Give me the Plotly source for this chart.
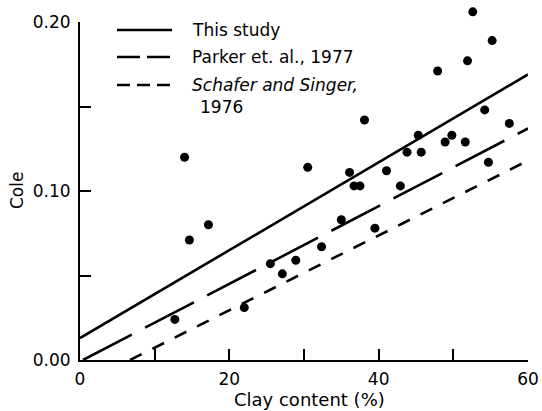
import plotly.graph_objects as go

# Measured samples: clay content (%) and coefficient of linear extensibility
clay_pct = [12.7, 14.0, 14.65, 17.2, 22.0, 25.5, 27.1, 28.9, 30.5, 32.35,
            35.0, 36.1, 36.7, 37.5, 38.1, 39.5, 41.05, 42.9, 43.8, 45.3,
            45.7, 47.9, 48.9, 49.8, 51.6, 51.9, 52.6, 54.2, 54.7, 55.2, 57.5]
cole = [0.024, 0.120, 0.071, 0.080, 0.031, 0.057, 0.051, 0.059, 0.114, 0.067,
        0.083, 0.111, 0.103, 0.103, 0.142, 0.078, 0.112, 0.103, 0.123, 0.133,
        0.123, 0.171, 0.129, 0.133, 0.129, 0.177, 0.206, 0.148, 0.117, 0.189, 0.140]

# Regression lines (end points)
this_study_x = [0.0, 60.0]
this_study_y = [0.013, 0.169]
parker_x = [0.4, 60.0]
parker_y = [0.0, 0.137]
schafer_x = [6.7, 60.0]
schafer_y = [0.0, 0.118]

x_ticks = [0, 10, 20, 30, 40, 50, 60]
x_tick_text = ["0", "", "20", "", "40", "", "60"]
y_ticks = [0.0, 0.05, 0.10, 0.15, 0.20]
y_tick_text = ["0.00", "", "0.10", "", "0.20"]
Y_MAX = 0.20

legend_labels = ["This study", "Parker et. al., 1977", "<i>Schafer and Singer,</i>", "1976"]

FONT = "DejaVu Sans"
W, H = 542, 411
ML, MR, MT, MB = 80, 14, 6, 51
PW, PH = W - ML - MR, H - MT - MB
AXIS_TOP_PX = 22                       # pixel row of the 0.20 tick
y_dom_top = (H - MB - AXIS_TOP_PX) / PH  # fraction of plot height used by the framed axis


def px_to_paper(px, py):
    return (px - ML) / PW, (H - MB - py) / PH


fig = go.Figure()

# Points sit on a hidden axis with the same scale but a taller span, so values
# above 0.20 are still drawn; the regression lines use the framed axis.
fig.add_trace(go.Scatter(x=clay_pct, y=cole, mode="markers", yaxis="y2",
                         marker=dict(color="black", size=9, line=dict(width=0)),
                         cliponaxis=False, showlegend=False))
fig.add_trace(go.Scatter(x=this_study_x, y=this_study_y, mode="lines",
                         line=dict(color="black", width=2.6), showlegend=False))
fig.add_trace(go.Scatter(x=parker_x, y=parker_y, mode="lines",
                         line=dict(color="black", width=2.6, dash="55px,15px"),
                         showlegend=False))
fig.add_trace(go.Scatter(x=schafer_x, y=schafer_y, mode="lines",
                         line=dict(color="black", width=2.6, dash="13px,12px"),
                         showlegend=False))

# Key: line samples and labels
key_rows = [30, 57, 85]
key_dash = ["solid", "23px,7px", "13px,7px"]
for row, dash in zip(key_rows, key_dash):
    x0, y0 = px_to_paper(117, row)
    x1, _ = px_to_paper(172, row)
    fig.add_shape(type="line", xref="paper", yref="paper", x0=x0, x1=x1, y0=y0, y1=y0,
                  line=dict(color="black", width=2.6, dash=dash))

label_pos = [(190, 30), (190, 57), (190, 85), (198, 107)]
for text, (px, py) in zip(legend_labels, label_pos):
    ax, ay = px_to_paper(px, py)
    fig.add_annotation(text=text, x=ax, y=ay, xref="paper", yref="paper",
                       xanchor="left", yanchor="middle", showarrow=False,
                       font=dict(family=FONT, size=17, color="black"))

# Axis titles
tx, ty = px_to_paper(309, 399)
fig.add_annotation(text="Clay content (%)", x=tx, y=ty, xref="paper", yref="paper",
                   xanchor="center", yanchor="middle", showarrow=False,
                   font=dict(family=FONT, size=18, color="black"))
tx, ty = px_to_paper(17, 191)
fig.add_annotation(text="Cole", x=tx, y=ty, xref="paper", yref="paper", textangle=-90,
                   xanchor="center", yanchor="middle", showarrow=False,
                   font=dict(family=FONT, size=17, color="black"))

axis_common = dict(showgrid=False, zeroline=False, showline=True, linecolor="black",
                   linewidth=2, ticks="inside", ticklen=11, tickwidth=2, automargin=False,
                   tickcolor="black", tickfont=dict(family=FONT, size=17, color="black"))

fig.update_layout(
    width=W, height=H,
    margin=dict(l=ML, r=MR, t=MT, b=MB, autoexpand=False),
    paper_bgcolor="white", plot_bgcolor="rgba(0,0,0,0)",
    xaxis=dict(range=[0, 60], tickvals=x_ticks, ticktext=x_tick_text,
               ticklabelstandoff=3, **axis_common),
    yaxis=dict(range=[0, Y_MAX], domain=[0, y_dom_top], tickvals=y_ticks,
               ticktext=y_tick_text, ticklabelstandoff=4, **axis_common),
    yaxis2=dict(range=[0, Y_MAX / y_dom_top], domain=[0, 1], anchor="x",
                visible=False, showgrid=False, zeroline=False, automargin=False),
    showlegend=False,
)

fig.write_html("out.html")
